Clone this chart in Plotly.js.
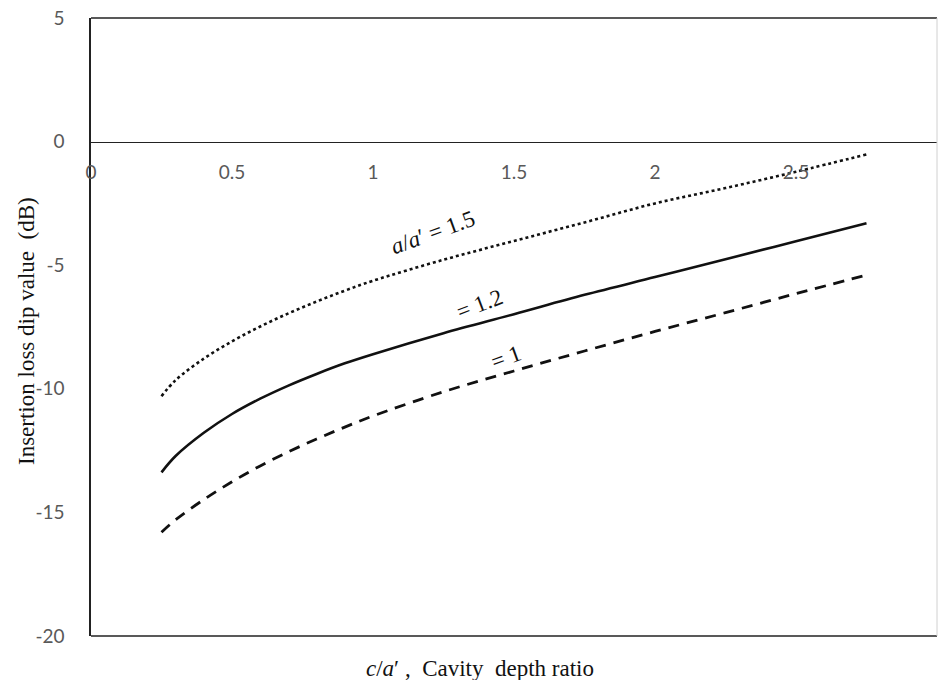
<!DOCTYPE html>
<html>
<head>
<meta charset="utf-8">
<script src="https://cdn.plot.ly/plotly-3.0.1.min.js"></script>
<style>html,body{margin:0;padding:0;background:#fff;}#chart{width:938px;height:680px;}</style>
</head>
<body>
<div id="chart"></div>
<script>
// c/a' values (cavity depth ratio)
const depthRatio = [0.25, 0.3, 0.4, 0.5, 0.6, 0.7, 0.8, 0.9, 1.0, 1.25, 1.5, 1.75, 2.0, 2.25, 2.5, 2.75];
// insertion loss dip (dB) for a/a' = 1.5, 1.2, 1
const dip_15 = [-10.30, -9.65, -8.78, -8.08, -7.48, -6.95, -6.47, -6.03, -5.63, -4.78, -4.02, -3.27, -2.50, -1.88, -1.22, -0.52];
const dip_12 = [-13.38, -12.72, -11.78, -11.02, -10.40, -9.87, -9.40, -8.97, -8.60, -7.75, -6.98, -6.20, -5.48, -4.76, -4.03, -3.30];
const dip_10 = [-15.80, -15.30, -14.48, -13.76, -13.12, -12.55, -12.03, -11.55, -11.10, -10.12, -9.28, -8.47, -7.68, -6.92, -6.15, -5.40];
const xTickVals = [0, 0.5, 1, 1.5, 2, 2.5, 3];
const xTickText = ['0', '0.5', '1', '1.5', '2', '2.5', '3'];
const yTickVals = [5, 0, -5, -10, -15, -20];
const yTickText = ['5', '0', '-5', '-10', '-15', '-20'];
const curveLabels = ["<i>a</i>/<i>a</i>′ = 1.5", "= 1.2", "= 1"];

const serif = "Liberation Serif, Times New Roman, serif";
const sans = "Lato, Liberation Sans, sans-serif";

const traces = [
  {x: depthRatio, y: dip_15, mode: 'lines', line: {color: '#111', width: 2.6, dash: 'dot', shape: 'spline'}},
  {x: depthRatio, y: dip_12, mode: 'lines', line: {color: '#111', width: 2.6, shape: 'spline'}},
  {x: depthRatio, y: dip_10, mode: 'lines', line: {color: '#111', width: 2.8, dash: '11px,8px', shape: 'spline'}}
];

const layout = {
  width: 938, height: 680,
  margin: {l: 91, r: 1, t: 18, b: 44},
  paper_bgcolor: '#fff', plot_bgcolor: '#fff',
  showlegend: false,
  xaxis: {
    range: [0, 3], tickvals: xTickVals, ticktext: xTickText,
    anchor: 'free', position: 0.8,
    showline: true, linecolor: '#222', linewidth: 1.6,
    showgrid: false, zeroline: false, ticks: '',
    ticklabelstandoff: 13,
    tickfont: {family: sans, size: 19, color: '#595959'}
  },
  yaxis: {
    range: [-20, 5], tickvals: yTickVals, ticktext: yTickText,
    showline: true, linecolor: '#222', linewidth: 1.6,
    showgrid: false, zeroline: false, ticks: '',
    ticklabelstandoff: 21,
    tickfont: {family: sans, size: 19, color: '#595959'}
  },
  shapes: [
    {type: 'line', xref: 'paper', yref: 'paper', x0: 0, x1: 1, y0: 1, y1: 1, line: {color: '#222', width: 1.6}},
    {type: 'line', xref: 'paper', yref: 'paper', x0: 0, x1: 1, y0: 0, y1: 0, line: {color: '#222', width: 1.6}},
    {type: 'line', xref: 'paper', yref: 'paper', x0: 1, x1: 1, y0: 0, y1: 1, line: {color: '#d0d0d0', width: 1}}
  ],
  annotations: [
    {xref: 'x', yref: 'y', x: 1.213, y: -3.68, text: curveLabels[0], showarrow: false, textangle: -20,
     font: {family: serif, size: 23, color: '#111'}},
    {xref: 'x', yref: 'y', x: 1.376, y: -6.60, text: curveLabels[1], showarrow: false, textangle: -21,
     font: {family: serif, size: 23, color: '#111'}},
    {xref: 'x', yref: 'y', x: 1.472, y: -8.74, text: curveLabels[2], showarrow: false, textangle: -20,
     font: {family: serif, size: 23, color: '#111'}},
    {xref: 'paper', yref: 'paper', x: (480 - 91) / 846, y: -(668 - 636) / 618, xanchor: 'center', yanchor: 'middle',
     text: "<i>c</i>/<i>a</i>′ ,&nbsp; Cavity&nbsp; depth ratio", showarrow: false,
     font: {family: serif, size: 23, color: '#111'}},
    {xref: 'paper', yref: 'paper', x: -(91 - 27) / 846, y: (636 - 331) / 618, xanchor: 'center', yanchor: 'middle',
     text: "Insertion loss dip value&nbsp; (dB)", showarrow: false, textangle: -90,
     font: {family: serif, size: 23, color: '#111'}}
  ]
};

Plotly.newPlot('chart', traces, layout, {displayModeBar: false, staticPlot: true});
</script>
</body>
</html>
